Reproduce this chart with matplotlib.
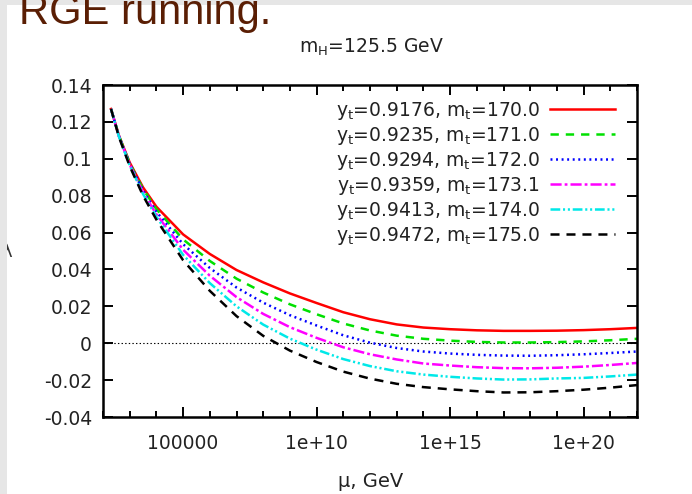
import numpy as np
import matplotlib
matplotlib.use('Agg')
import matplotlib.pyplot as plt
from matplotlib.patches import Rectangle
from matplotlib.ticker import FixedLocator, FixedFormatter, LogLocator, NullFormatter

plt.rcParams['font.family'] = ['DejaVu Sans']
plt.rcParams['mathtext.fontset'] = 'dejavusans'
plt.rcParams['lines.scale_dashes'] = False

# data: log10(mu/GeV) and lambda for each top mass
log_mu = [2.3, 2.6, 3.0, 3.5, 4, 5, 6, 7, 8, 9, 10, 11, 12, 13, 14, 15, 16, 17, 18, 19, 20, 21, 22]

lam_170 = [0.1270, 0.1125, 0.0980, 0.0845, 0.0740, 0.0590, 0.0484, 0.0397, 0.0330, 0.0270, 0.0218, 0.0168,
           0.0130, 0.0102, 0.0085, 0.0076, 0.0070, 0.0067, 0.0067, 0.0068, 0.0071, 0.0076, 0.0083]
lam_171 = [0.1270, 0.1123, 0.0976, 0.0836, 0.0727, 0.0563, 0.0446, 0.0350, 0.0275, 0.0211, 0.0157, 0.0107,
           0.0069, 0.0041, 0.0024, 0.0014, 0.0007, 0.0004, 0.0004, 0.0006, 0.0010, 0.0016, 0.0024]
lam_172 = [0.1270, 0.1122, 0.0972, 0.0828, 0.0713, 0.0537, 0.0408, 0.0302, 0.0220, 0.0152, 0.0096, 0.0043,
           0.0003, -0.0026, -0.0045, -0.0056, -0.0063, -0.0067, -0.0068, -0.0065, -0.0060, -0.0053, -0.0045]
lam_1731 = [0.1270, 0.1120, 0.0968, 0.0818, 0.0699, 0.0507, 0.0366, 0.0250, 0.0159, 0.0087, 0.0029, -0.0022,
            -0.0060, -0.0088, -0.0110, -0.0121, -0.0130, -0.0135, -0.0136, -0.0133, -0.0127, -0.0118, -0.0107]
lam_174 = [0.1270, 0.1119, 0.0964, 0.0809, 0.0685, 0.0479, 0.0326, 0.0200, 0.0101, 0.0025, -0.0035, -0.0086,
           -0.0124, -0.0152, -0.0170, -0.0182, -0.0191, -0.0197, -0.0196, -0.0191, -0.0188, -0.0180, -0.0170]
lam_175 = [0.1270, 0.1117, 0.0960, 0.0800, 0.0670, 0.0450, 0.0284, 0.0147, 0.0040, -0.0040, -0.0102, -0.0154,
           -0.0192, -0.0220, -0.0238, -0.0250, -0.0260, -0.0267, -0.0266, -0.0260, -0.0252, -0.0241, -0.0227]

yt = [0.9176, 0.9235, 0.9294, 0.9359, 0.9413, 0.9472]
mt = [170.0, 171.0, 172.0, 173.1, 174.0, 175.0]

xtick_vals = [1e5, 1e10, 1e15, 1e20]
xtick_labels = ['100000', '1e+10', '1e+15', '1e+20']
ytick_vals = [-0.04, -0.02, 0, 0.02, 0.04, 0.06, 0.08, 0.10, 0.12, 0.14]
ytick_labels = ['-0.04', '-0.02', '0', '0.02', '0.04', '0.06', '0.08', '0.1', '0.12', '0.14']

series = [lam_170, lam_171, lam_172, lam_1731, lam_174, lam_175]
colors = ['#ff0000', '#00e000', '#0000ff', '#ff00ff', '#00e8e8', '#000000']
dashes = [None, (6, 5), (1.4, 2.6), (8, 2.2, 2, 2.2), (7, 2, 1.5, 2, 1.5, 2), (6.5, 5)]

W, H = 692, 494
fig = plt.figure(figsize=(W / 100, H / 100), dpi=100)
fig.patch.set_facecolor('white')

# slide frame + slide title
fig.add_artist(Rectangle((0, 0), 7 / W, 1, transform=fig.transFigure, color='#e6e6e6', zorder=10, lw=0))
fig.add_artist(Rectangle((0, 1 - 5 / H), 1, 5 / H, transform=fig.transFigure, color='#e6e6e6', zorder=10, lw=0))
fig.text(19 / W, 1 - 24 / H, 'RGE running.', fontsize=30, family='Liberation Sans',
         color='#5a1e04', va='baseline', ha='left', zorder=30)
fig.text(7 / W, 1 - 252 / H, 'λ', fontsize=13, color='#333333', ha='center', va='center', zorder=5)

ax = fig.add_axes([103 / W, 1 - 417 / H, 534 / W, 332 / H])
mu = 10.0 ** np.array(log_mu)

ax.axhline(0, color='k', lw=0.8, ls=(0, (1.0, 1.6)), zorder=1)
for lam, c, d in zip(series, colors, dashes):
    line, = ax.plot(mu, lam, color=c, lw=1.8, zorder=2)
    if d is not None:
        line.set_dashes(d)

ax.set_xscale('log')
ax.set_xlim(1e2, 1e22)
ax.set_ylim(-0.04, 0.14)
ax.xaxis.set_major_locator(FixedLocator(xtick_vals))
ax.xaxis.set_major_formatter(FixedFormatter(xtick_labels))
ax.xaxis.set_minor_locator(LogLocator(base=10, subs=(1.0,), numticks=40))
ax.xaxis.set_minor_formatter(NullFormatter())
ax.yaxis.set_major_locator(FixedLocator(ytick_vals))
ax.yaxis.set_major_formatter(FixedFormatter(ytick_labels))

for s in ax.spines.values():
    s.set_linewidth(1.8)
ax.tick_params(which='both', direction='in', top=True, right=True, width=1.4, colors='k',
               labelcolor='#222222', labelsize=13.5)
ax.tick_params(axis='y', which='major', length=7, pad=8)
ax.tick_params(axis='x', which='major', length=7.5, pad=12)
ax.tick_params(axis='x', which='minor', length=4)

# gnuplot style key: right aligned text, sample on the right
row_y = [0.9277, 0.8524, 0.7771, 0.7018, 0.6265, 0.5512]
for i in range(6):
    label = r'y$_\mathrm{t}$=%.4f, m$_\mathrm{t}$=%.1f' % (yt[i], mt[i])
    ax.text(0.8184, row_y[i] - 0.021, label, transform=ax.transAxes, ha='right', va='baseline',
            fontsize=13.5, color='#222222')
    key, = ax.plot([0.837, 0.959], [row_y[i], row_y[i]], transform=ax.transAxes, color=colors[i], lw=1.8)
    if dashes[i] is not None:
        key.set_dashes(dashes[i])

fig.text(371 / W, 1 - 47 / H, r'm$_\mathrm{H}$=125.5 GeV', ha='center', va='center', fontsize=13.5, color='#222222')
fig.text(371 / W, 1 - 481 / H, 'μ, GeV', ha='center', va='center', fontsize=14, color='#222222')

fig.savefig('out.png', dpi=100)
